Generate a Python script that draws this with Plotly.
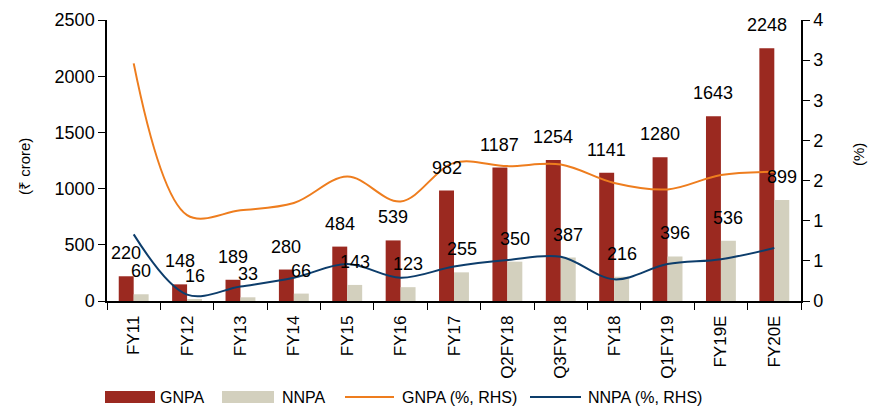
import plotly.graph_objects as go

categories = ["FY11", "FY12", "FY13", "FY14", "FY15", "FY16", "FY17",
              "Q2FY18", "Q3FY18", "FY18", "Q1FY19", "FY19E", "FY20E"]
gnpa = [220, 148, 189, 280, 484, 539, 982, 1187, 1254, 1141, 1280, 1643, 2248]
nnpa = [60, 16, 33, 66, 143, 123, 255, 350, 387, 216, 396, 536, 899]
gnpa_pct = [2.96, 1.07, 1.13, 1.22, 1.55, 1.24, 1.72, 1.68, 1.70, 1.47, 1.39, 1.57, 1.61]
nnpa_pct = [0.83, 0.08, 0.18, 0.29, 0.46, 0.29, 0.43, 0.51, 0.55, 0.27, 0.46, 0.52, 0.66]
right_tickvals = [0, 0.5, 1.0, 1.5, 2.0, 2.5, 3.0, 3.5]
right_ticktext = ["0", "1", "1", "2", "2", "3", "3", "4"]
series_names = ["GNPA", "NNPA", "GNPA (%, RHS)", "NNPA (%, RHS)"]

FONT = "Liberation Sans, Arial, sans-serif"
RED = "#9B2920"
BEIGE = "#D3D0BE"
ORANGE = "#EE7D1E"
NAVY = "#0D3D6B"

W, H = 876, 407
L, R, T, B = 107, 75, 20, 106
PW, PH = W - L - R, H - T - B


def px_x(px):
    return (px - L) / PW


def px_y(py):
    return (H - B - py) / PH


fig = go.Figure()
fig.add_trace(go.Bar(x=categories, y=gnpa, name=series_names[0], marker_color=RED,
                     marker_line_width=0))
fig.add_trace(go.Bar(x=categories, y=nnpa, name=series_names[1], marker_color=BEIGE,
                     marker_line_width=0))
fig.add_trace(go.Scatter(x=categories, y=gnpa_pct, name=series_names[2], yaxis="y2",
                         mode="lines", line=dict(color=ORANGE, width=2, shape="spline", smoothing=1)))
fig.add_trace(go.Scatter(x=categories, y=nnpa_pct, name=series_names[3], yaxis="y2",
                         mode="lines", line=dict(color=NAVY, width=2, shape="spline", smoothing=1)))

LABEL_SIZE = 18
annotations = []
for c, v in zip(categories, gnpa):
    annotations.append(dict(x=c, y=v, xref="x", yref="y", text=str(v), showarrow=False,
                            xshift=-7.5, yshift=11, yanchor="bottom",
                            font=dict(family=FONT, size=LABEL_SIZE, color="black")))
for c, v in zip(categories, nnpa):
    annotations.append(dict(x=c, y=v, xref="x", yref="y", text=str(v), showarrow=False,
                            xshift=7.5, yshift=11, yanchor="bottom",
                            font=dict(family=FONT, size=LABEL_SIZE, color="black")))
annotations.append(dict(x=px_x(24), y=px_y(167), xref="paper", yref="paper", text="(₹ crore)",
                        textangle=-90, showarrow=False, xanchor="center", yanchor="middle",
                        font=dict(family=FONT, size=15, color="black")))
annotations.append(dict(x=px_x(858), y=px_y(155), xref="paper", yref="paper", text="(%)",
                        textangle=-90, showarrow=False, xanchor="center", yanchor="middle",
                        font=dict(family=FONT, size=15, color="black")))

# custom legend
shapes = []
leg_y = 397
shapes.append(dict(type="rect", xref="paper", yref="paper", x0=px_x(105), x1=px_x(155),
                   y0=px_y(403), y1=px_y(391), fillcolor=RED, line_width=0))
shapes.append(dict(type="rect", xref="paper", yref="paper", x0=px_x(222), x1=px_x(274),
                   y0=px_y(403), y1=px_y(391), fillcolor=BEIGE, line_width=0))
shapes.append(dict(type="line", xref="paper", yref="paper", x0=px_x(345), x1=px_x(394),
                   y0=px_y(leg_y), y1=px_y(leg_y), line=dict(color=ORANGE, width=2)))
shapes.append(dict(type="line", xref="paper", yref="paper", x0=px_x(530), x1=px_x(581),
                   y0=px_y(leg_y), y1=px_y(leg_y), line=dict(color=NAVY, width=2)))
for name, xs in zip(series_names, [158, 280, 400, 586]):
    annotations.append(dict(x=px_x(xs), y=px_y(leg_y), xref="paper", yref="paper", text=name,
                            xanchor="left", yanchor="middle", showarrow=False,
                            font=dict(family=FONT, size=16, color="black")))

fig.update_layout(
    width=W, height=H,
    margin=dict(l=L, r=R, t=T, b=B),
    paper_bgcolor="white", plot_bgcolor="white",
    barmode="group", bargap=0.44, bargroupgap=0,
    font=dict(family=FONT, size=18, color="black"),
    showlegend=False,
    xaxis=dict(type="category", showline=True, linecolor="black", linewidth=1.5,
               ticks="outside", ticklen=7, tickcolor="black", tickson="boundaries",
               tickangle=-90, tickfont=dict(family=FONT, size=17), showgrid=False,
               ticklabelstandoff=6, automargin=False),
    yaxis=dict(range=[0, 2500], dtick=500, showline=True, linecolor="black", linewidth=1.5,
               ticks="outside", ticklen=7, tickcolor="black", showgrid=False,
               zeroline=False, tickfont=dict(family=FONT, size=18), automargin=False),
    yaxis2=dict(range=[0, 3.5], overlaying="y", side="right", tickmode="array",
                tickvals=right_tickvals, ticktext=right_ticktext,
                showline=True, linecolor="black", linewidth=1.5,
                ticks="outside", ticklen=7, tickcolor="black", showgrid=False,
                zeroline=False, tickfont=dict(family=FONT, size=18), automargin=False),
    annotations=annotations,
    shapes=shapes,
)

fig.write_html("out.html", config={"displayModeBar": False},
               post_script="document.body.style.margin='0px';document.body.style.overflow='hidden';")
